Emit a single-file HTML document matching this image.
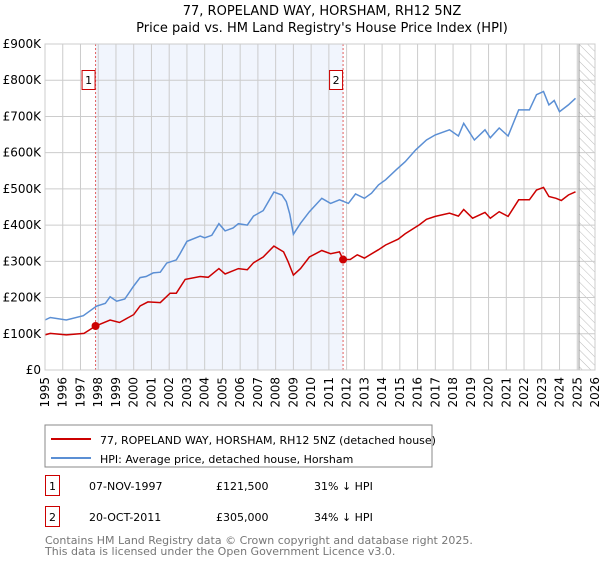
<!DOCTYPE html>
<html><head><meta charset="utf-8"><style>
body{margin:0;background:#fff;font-family:"DejaVu Sans","Liberation Sans",sans-serif;}
svg text{font-family:"DejaVu Sans","Liberation Sans",sans-serif;}
</style></head><body>
<svg id="c" width="600" height="560" xmlns="http://www.w3.org/2000/svg">
<defs><pattern id="hatch" width="6" height="6" patternUnits="userSpaceOnUse" patternTransform="rotate(-45)"><line x1="0" y1="0" x2="0" y2="6" stroke="#bbb" stroke-width="1"/></pattern></defs>
<text x="322" y="15" text-anchor="middle" font-size="13">77, ROPELAND WAY, HORSHAM, RH12 5NZ</text>
<text x="322" y="32" text-anchor="middle" font-size="13">Price paid vs. HM Land Registry's House Price Index (HPI)</text>
<g id="plot"></g>
<rect x="45" y="425" width="387" height="42" fill="#fff" stroke="#888"/>
<line x1="51" y1="439" x2="91" y2="439" stroke="#cc0000" stroke-width="2"/>
<text x="100" y="444" font-size="11">77, ROPELAND WAY, HORSHAM, RH12 5NZ (detached house)</text>
<line x1="51" y1="458" x2="91" y2="458" stroke="#5b8fd4" stroke-width="2"/>
<text x="100" y="463" font-size="11">HPI: Average price, detached house, Horsham</text>
<g>
<rect x="45.5" y="475.5" width="14" height="20" fill="#fff" stroke="#cc0000"/>
<text x="52.5" y="490" font-size="11" text-anchor="middle">1</text>
<text x="89" y="490" font-size="11">07-NOV-1997</text>
<text x="216" y="490" font-size="11">£121,500</text>
<text x="314" y="490" font-size="11">31% ↓ HPI</text></g>
<g>
<rect x="45.5" y="506.5" width="14" height="20" fill="#fff" stroke="#cc0000"/>
<text x="52.5" y="521" font-size="11" text-anchor="middle">2</text>
<text x="89" y="521" font-size="11">20-OCT-2011</text>
<text x="216" y="521" font-size="11">£305,000</text>
<text x="314" y="521" font-size="11">34% ↓ HPI</text></g>
<text x="45" y="544" font-size="11" fill="#777">Contains HM Land Registry data © Crown copyright and database right 2025.</text>
<text x="45" y="555" font-size="11" fill="#777">This data is licensed under the Open Government Licence v3.0.</text>
</svg>
<script>
const yTicks=[0,100,200,300,400,500,600,700,800,900];
const yTickLabels=["£0","£100K","£200K","£300K","£400K","£500K","£600K","£700K","£800K","£900K"];
const years=[1995,1996,1997,1998,1999,2000,2001,2002,2003,2004,2005,2006,2007,2008,2009,2010,2011,2012,2013,2014,2015,2016,2017,2018,2019,2020,2021,2022,2023,2024,2025,2026];
const hpiT=[1995.0,1995.3,1996.2,1997.16,1997.9,1998.4,1998.67,1999.04,1999.5,2000.0,2000.36,2000.7,2001.1,2001.5,2001.86,2002.4,2002.6,2003.0,2003.75,2004.0,2004.4,2004.8,2005.15,2005.6,2005.9,2006.4,2006.75,2007.3,2007.9,2008.35,2008.6,2008.8,2009.0,2009.4,2009.9,2010.6,2011.1,2011.6,2012.1,2012.5,2013.0,2013.4,2013.8,2014.2,2014.8,2015.3,2015.9,2016.5,2017.0,2017.8,2018.3,2018.6,2019.2,2019.8,2020.1,2020.6,2021.1,2021.7,2022.3,2022.7,2023.1,2023.4,2023.7,2024.0,2024.5,2024.9];
const hpiV=[138,145,138,150,176,184,202,190,196,232,255,258,268,270,295,304,320,355,370,365,372,404,384,392,404,400,425,440,491,483,465,430,375,405,437,474,460,470,460,486,474,488,511,525,553,575,608,635,649,663,646,681,635,663,641,668,646,718,718,760,769,732,744,713,732,750];
const propT=[1995.0,1995.3,1996.2,1997.2,1997.85,1998.67,1999.2,2000.0,2000.36,2000.8,2001.5,2002.05,2002.4,2002.9,2003.75,2004.2,2004.8,2005.15,2005.9,2006.4,2006.75,2007.3,2007.9,2008.45,2008.7,2009.0,2009.4,2009.9,2010.6,2011.1,2011.6,2011.8,2012.2,2012.6,2013.0,2013.8,2014.2,2014.9,2015.3,2016.1,2016.5,2017.0,2017.8,2018.3,2018.6,2019.1,2019.8,2020.1,2020.6,2021.1,2021.7,2022.3,2022.7,2023.1,2023.4,2023.8,2024.1,2024.5,2024.9];
const propV=[97,101,97,101,121.5,138,131,153,177,188,186,212,212,250,258,256,280,265,280,277,296,312,342,326,299,262,280,312,330,321,326,305,305,318,309,332,345,361,376,401,416,424,433,425,443,419,435,419,437,424,470,470,497,504,479,474,468,483,492];
const salesT=[1997.85,2011.8];
const salesV=[121.5,305];
const saleLabels=["1","2"];
const X0=45,X1=595,Y0=370,Y1=44,T0=1995,T1=2026,VMAX=900;
const xs=t=>X0+(t-T0)/(T1-T0)*(X1-X0);
const ys=v=>Y0-v/VMAX*(Y0-Y1);
const NS="http://www.w3.org/2000/svg";
const g=document.getElementById('plot');
function mk(tag,a){const e=document.createElementNS(NS,tag);for(const k in a)e.setAttribute(k,a[k]);g.appendChild(e);return e;}
let e;
e=mk('rect',{x:xs(salesT[0]),y:Y1,width:xs(salesT[1])-xs(salesT[0]),height:Y0-Y1,fill:'#eef3fc',opacity:0.8});


e=mk('rect',{x:xs(2025.1),y:Y1,width:X1-xs(2025.1),height:Y0-Y1,fill:'url(#hatch)'});


years.forEach(y=>{e=mk('line',{x1:xs(y),x2:xs(y),y1:Y1,y2:Y0,stroke:'#ccc','stroke-width':1});


e=mk('text',{x:0,y:0,'font-size':12,'text-anchor':'end',transform:`translate(${xs(y)+4},${Y0+7}) rotate(-90)`});e.textContent=y;

});
yTicks.forEach((v,i)=>{e=mk('line',{x1:X0,x2:X1,y1:ys(v),y2:ys(v),stroke:'#ccc','stroke-width':1});


e=mk('text',{x:X0-4,y:ys(v)+4,'font-size':12,'text-anchor':'end'});e.textContent=yTickLabels[i];

});
e=mk('line',{x1:xs(2025.1),x2:xs(2025.1),y1:Y1,y2:Y0,stroke:'#999','stroke-width':1});


function path(T,V,c,n){e=mk('path',{d:T.map((t,i)=>(i?'L':'M')+xs(t).toFixed(1)+' '+ys(V[i]).toFixed(1)).join(''),fill:'none',stroke:c,'stroke-width':1.5});

}
salesT.forEach((t,i)=>{e=mk('line',{x1:xs(t),x2:xs(t),y1:Y1,y2:Y0,stroke:'#e06060','stroke-width':1,'stroke-dasharray':'2,2'});

});
path(hpiT,hpiV,'#5b8fd4','hpi-line');
path(propT,propV,'#cc0000','property-line');
salesT.forEach((t,i)=>{e=mk('circle',{cx:xs(t),cy:ys(salesV[i]),r:4,fill:'#cc0000'});


e=mk('rect',{x:xs(t)-13.5,y:70.5,width:13,height:19,fill:'#fff',stroke:'#cc0000'});


e=mk('text',{x:xs(t)-7,y:84,'font-size':11,'text-anchor':'middle'});e.textContent=saleLabels[i];

});
e=mk('rect',{x:X0,y:Y1,width:X1-X0,height:Y0-Y1,fill:'none',stroke:'#ccc'});


</script>
</body></html>
